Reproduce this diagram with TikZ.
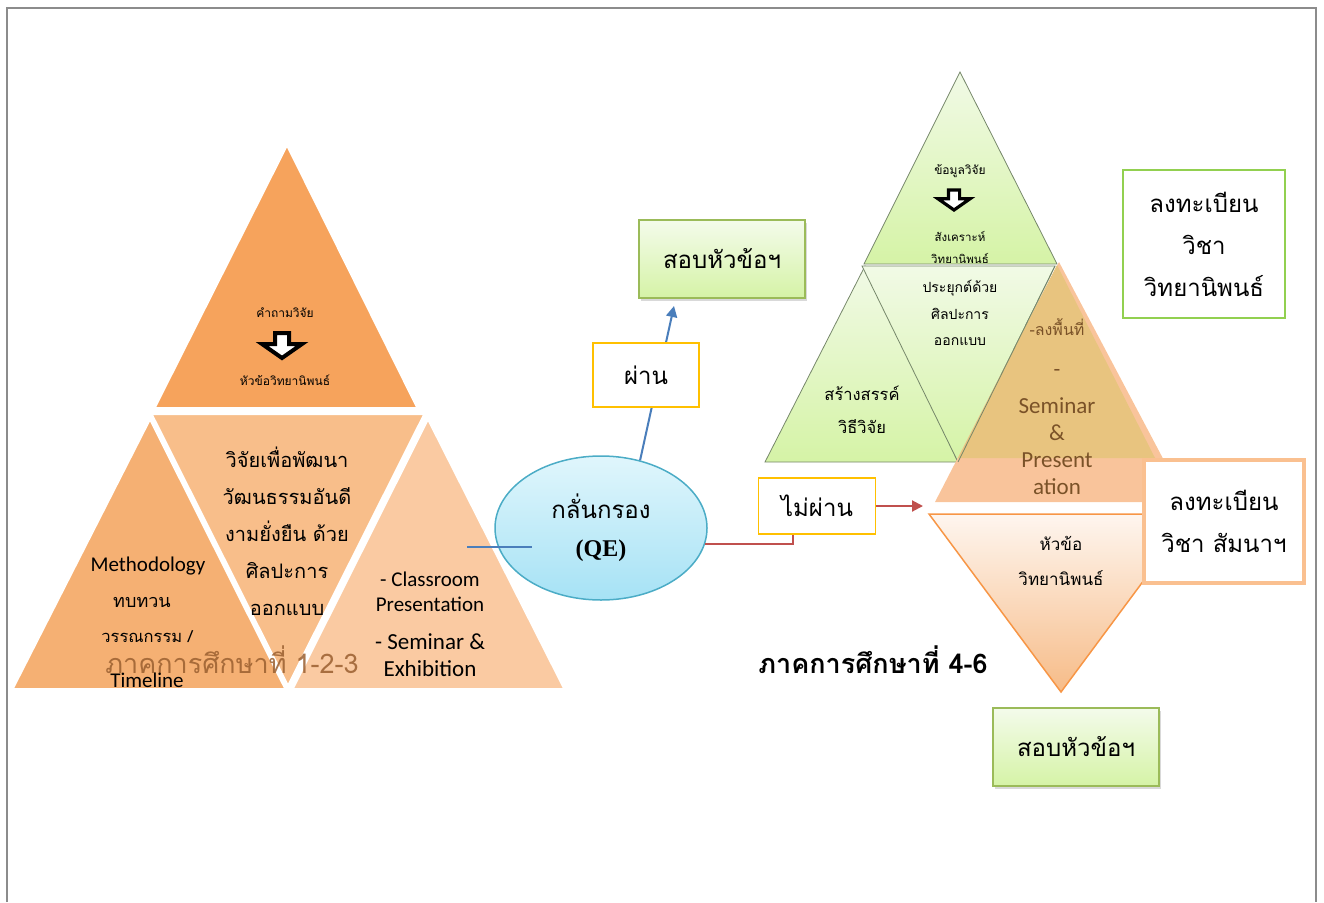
\documentclass[tikz,border=0pt]{standalone}
\usepackage{fontspec}
\setmainfont{Carlito}
\newfontfamily\thai[Script=Thai]{Loma}
\newfontfamily\qefont{Liberation Serif}
\usetikzlibrary{arrows.meta,calc,shadows,shapes.geometric}

\definecolor{pyrA}{HTML}{F6A35C}
\definecolor{pyrB}{HTML}{F5B073}
\definecolor{pyrC}{HTML}{F8BE8A}
\definecolor{pyrD}{HTML}{FACAA2}
\definecolor{leafTop}{HTML}{F1FAE6}
\definecolor{leafBot}{HTML}{D5F3A6}
\definecolor{leafLine}{HTML}{76876A}
\definecolor{peach}{HTML}{F9C49B}
\definecolor{sand}{HTML}{E8C47F}
\definecolor{clay}{HTML}{7A5228}
\definecolor{rust}{HTML}{9A5F30}
\definecolor{skyTop}{HTML}{E0F6FC}
\definecolor{skyBot}{HTML}{A6E2F5}
\definecolor{skyLine}{HTML}{4BACC6}
\definecolor{passBlue}{HTML}{4A7EBB}
\definecolor{failRed}{HTML}{C0504D}
\definecolor{amber}{HTML}{FFC000}
\definecolor{boxGreen}{HTML}{9BBB59}
\definecolor{regGreen}{HTML}{92D050}
\definecolor{regPeach}{HTML}{FAC090}
\definecolor{topicLine}{HTML}{F79646}

\begin{document}
\begin{tikzpicture}[x=1pt,y=-1pt,
    examBox/.style={draw=boxGreen, line width=1.5pt, top color=leafTop!80!white, bottom color=leafBot,
        minimum width=166pt, minimum height=78pt, font=\thai\fontsize{24}{28}\selectfont,
        drop shadow={shadow xshift=2pt, shadow yshift=-3pt, opacity=0.3}},
    verdict/.style={draw=amber, line width=1.5pt, fill=white, font=\thai\fontsize{24}{28}\selectfont},
    leaf/.style={draw=leafLine, line width=0.8pt, top color=leafTop, bottom color=leafBot},
    slab/.style={draw=white, line width=4pt, line join=round}]

    \useasboundingbox (0,0) rectangle (1324,902);
    % frame
    \draw[black!45, line width=2pt] (7,902) -- (7,8) -- (1316,8) -- (1316,902);

    % semester 1-3 pyramid
    \foreach \c/\xa/\ya/\xb/\yb/\xc/\yc in {pyrA/287/143/153/409/419/409,
                                          pyrB/150/417/11/690/287/690,
                                          pyrC/150/413/426/413/288/688,
                                          pyrD/428/417/291/690/566/690}
        \filldraw[slab, fill=\c] (\xa,\ya) -- (\xb,\yb) -- (\xc,\yc) -- cycle;

    \node[font=\thai\fontsize{27}{30}\selectfont, text=rust, opacity=0.85] (term1) at (232,660) {ภาคการศึกษาที่ 1-2-3};

    \node[font=\thai\fontsize{12}{14}\selectfont] (question) at (285,313) {คำถามวิจัย};
    \node[font=\thai\fontsize{12}{14}\selectfont] (topic1) at (285,380) {หัวข้อวิทยานิพนธ์};
    \node[font=\thai\fontsize{20}{37}\selectfont, align=center] (aim) at (287,531)
        {วิจัยเพื่อพัฒนา\\วัฒนธรรมอันดี\\งามยั่งยืน ด้วย\\ศิลปะการ\\ออกแบบ};
    \node[font=\fontsize{21}{23}\selectfont] (method) at (148,566) {Methodology};
    \node[font=\thai\fontsize{18}{20}\selectfont] (review) at (142,602) {ทบทวน};
    \node[font=\thai\fontsize{16.5}{19}\selectfont] (lit) at (147,637) {วรรณกรรม /};
    \node[font=\fontsize{21}{23}\selectfont] (tline) at (147,680) {Timeline};
    \node[font=\fontsize{21}{25}\selectfont, align=center] (classrm) at (430,592) {- Classroom\\Presentation};
    \node[font=\fontsize{23}{27}\selectfont, align=center] (seminar) at (430,655) {- Seminar \&\\Exhibition};

    % QE
    \node[ellipse, draw=skyLine, line width=1.5pt, top color=skyTop, bottom color=skyBot,
        minimum width=212pt, minimum height=144pt, align=center,
        font=\fontsize{24}{38}\selectfont] (qe) at (601,528)
        {{\thai กลั่นกรอง}\\{\qefont\bfseries (QE)}};
    \coordinate (linkA) at (467,547);
    \coordinate (linkB) at (532,547);
    \draw[passBlue, line width=1.2pt] (linkA) -- (linkB);

    \node[examBox] (exam) at (722,259) {สอบหัวข้อฯ};
    \coordinate (passtip) at (674,306);
    \draw[passBlue, line width=2pt, -{Triangle[length=11pt,width=11pt]}] (qe.60) -- (passtip);
    \node[verdict, minimum width=106pt, minimum height=64pt] (pass) at (646,375) {ผ่าน};

    \node[verdict, minimum width=117pt, minimum height=56pt] (fail) at (817,506) {ไม่ผ่าน};
    \coordinate (failend) at (923,506);
    \draw[failRed, line width=2pt] (qe.-9) -| ($(fail.south)+(-24,0)$);
    \draw[failRed, line width=2pt, -{Triangle[length=11pt,width=11pt]}] (fail.east) -- (failend);

    % semester 4-6 pyramid
    \shade[leaf] (960,72) -- (864,264) -- (1057,264) -- cycle;
    \shade[leaf] (865,266) -- (765,462) -- (958,462) -- cycle;
    \shade[leaf] (862,266) -- (1055,266) -- (958,462) -- cycle;
    \fill[peach] (1059,262) -- (935,502) -- (1186,502) -- cycle;
    \fill[sand] (1057,265) -- (958,458) -- (1155,458) -- cycle;
    \draw[leafLine, line width=0.8pt] (1055,266) -- (958,462);

    % block arrows
    \foreach \ax/\ay/\as in {282/333/1, 954/190/0.8}
        \filldraw[shift={(\ax,\ay)}, scale=\as, fill=white, draw=black, line width=\as*4pt]
            (-7,0) -- (7,0) -- (7,11) -- (20,11) -- (0,25) -- (-20,11) -- (-7,11) -- cycle;

    \node[font=\thai\fontsize{12}{14}\selectfont] (data) at (960,171) {ข้อมูลวิจัย};
    \node[font=\thai\fontsize{11.5}{13}\selectfont] (synth) at (960,236) {สังเคราะห์};
    \node[font=\thai\fontsize{11.5}{13}\selectfont] (thesis) at (960,258) {วิทยานิพนธ์};
    \node[font=\thai\fontsize{14}{26.5}\selectfont, align=center] (apply) at (960,313)
        {ประยุกต์ด้วย\\ศิลปะการ\\ออกแบบ};
    \node[font=\thai\fontsize{16.5}{33}\selectfont, align=center] (create) at (862,410) {สร้างสรรค์\\วิธีวิจัย};
    \node[font=\thai\fontsize{16}{18}\selectfont, text=clay] (field) at (1057,327) {-ลงพื้นที่};
    \node[font=\fontsize{22}{24}\selectfont, text=clay] (dash) at (1057,373) {-};
    \node[font=\fontsize{23}{27}\selectfont, text=clay, align=center] (fieldsem) at (1057,446)
        {Seminar\\\&\\Present\\ation};

    \shade[draw=topicLine, line width=1.5pt, top color=white!60!peach!40, bottom color=pyrB!85]
        (929,514) -- (1193,514) -- (1061,692) -- cycle;
    \node[font=\thai\fontsize{17}{35}\selectfont, align=center] (topic2) at (1061,561) {หัวข้อ\\วิทยานิพนธ์};

    \node[draw=regPeach, line width=4pt, fill=white, minimum width=160pt, minimum height=123pt,
        align=center, font=\thai\fontsize{24}{42}\selectfont] (seminarreg) at (1224,521)
        {ลงทะเบียน\\วิชา สัมนาฯ};
    \node[draw=regGreen, line width=1.5pt, fill=white, minimum width=162pt, minimum height=148pt,
        align=center, font=\thai\fontsize{24}{42}\selectfont] (thesisreg) at (1204,244)
        {ลงทะเบียน\\วิชา\\วิทยานิพนธ์};

    \node[font=\thai\bfseries\fontsize{27}{30}\selectfont] (term2) at (873,660) {ภาคการศึกษาที่ 4-6};
    \node[examBox] (exam2) at (1076,747) {สอบหัวข้อฯ};
\end{tikzpicture}
\end{document}
